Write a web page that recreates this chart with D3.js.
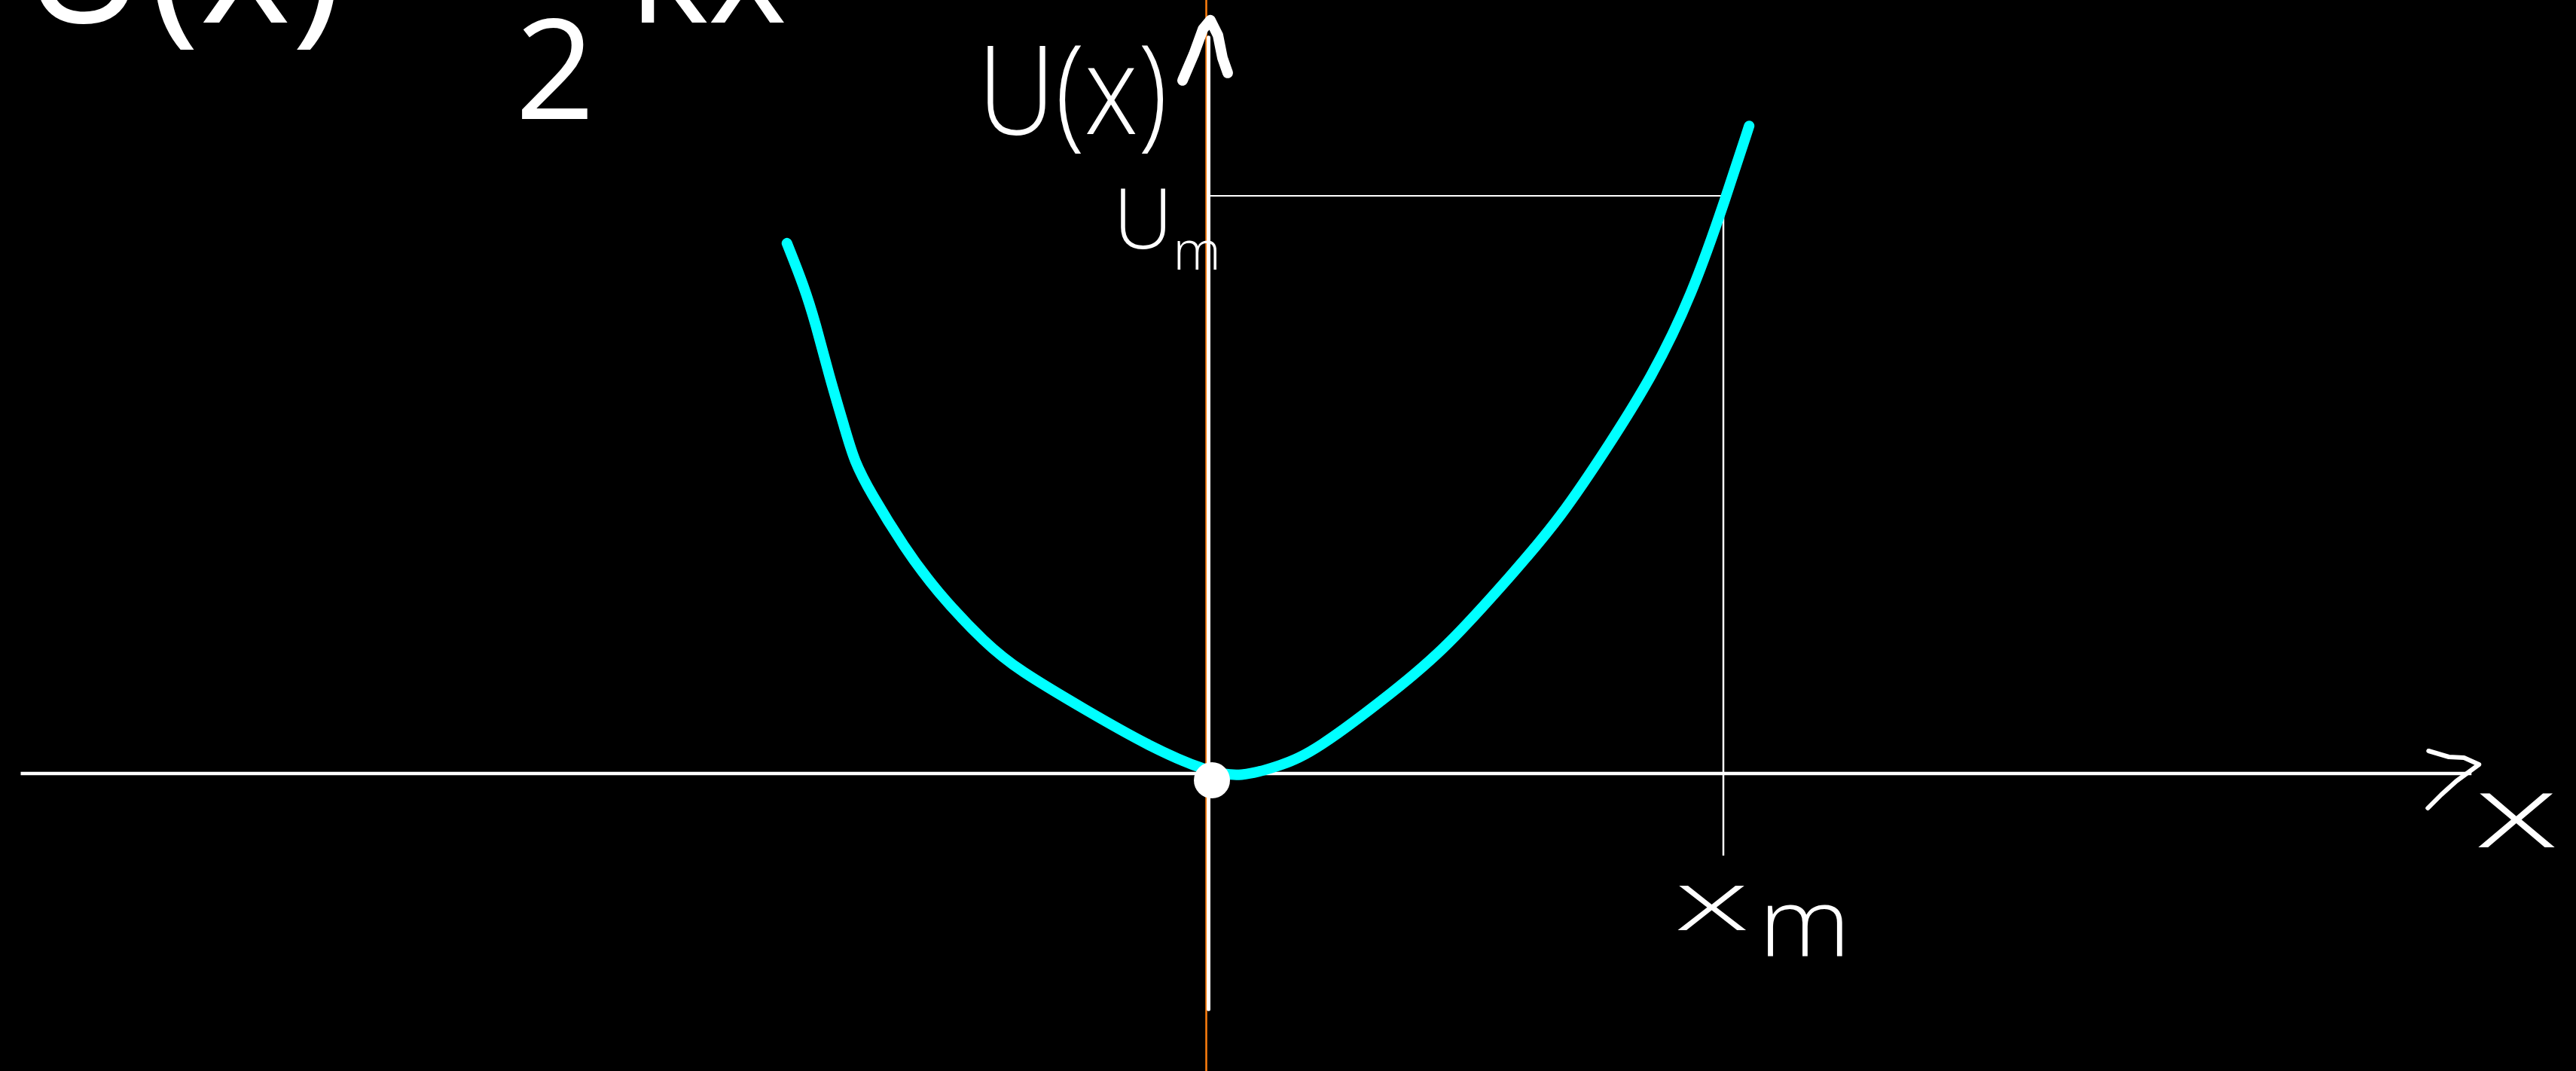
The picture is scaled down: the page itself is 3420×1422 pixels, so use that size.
<!DOCTYPE html>
<html>
<head>
<meta charset="utf-8">
<script src="https://cdn.jsdelivr.net/npm/d3@7"></script>
<style>
  html, body { margin: 0; padding: 0; background: #000; overflow: hidden; }
  svg { display: block; }
  text { fill: #fff; font-family: "Open Sans", "DejaVu Sans", sans-serif; }
</style>
</head>
<body>
<svg id="chart" width="3420" height="1422"></svg>
<script>
// Potential energy curve U(x): sampled positions and energies
const xValues = [-0.815, -0.782, -0.759, -0.734, -0.701, -0.685, -0.653, -0.588, -0.526,
                 -0.429, -0.366, -0.238, -0.111, 0, 0.064, 0.143, 0.207, 0.366, 0.461,
                 0.590, 0.685, 0.780, 0.860, 0.939, 1.006, 1.050];
const uValues = [0.918, 0.844, 0.778, 0.691, 0.592, 0.542, 0.486, 0.392, 0.316,
                 0.224, 0.179, 0.111, 0.046, 0.003, -0.007, 0.014, 0.037, 0.145, 0.216,
                 0.344, 0.443, 0.571, 0.684, 0.827, 1.0, 1.121];

// Marked amplitude x_m and its energy U_m
const xm = 1;
const um = 1;

// Axis extents in data units
const xAxisRange = [-2.3, 2.45];
const uAxisRange = [-0.408, 1.274];

// Labels
const labels = { potential: "U(x)", energy: "U", energySub: "m", amplitude: "x", amplitudeSub: "m", axis: "x" };

const svg = d3.select("#chart");

const x = d3.scaleLinear().domain([0, xm]).range([1603, 2288]);
const y = d3.scaleLinear().domain([0, um]).range([1027, 260]);

// Guide line behind the vertical axis
svg.append("line")
  .attr("x1", x(0) - 1.5).attr("x2", x(0) - 1.5)
  .attr("y1", 0).attr("y2", 1422)
  .attr("stroke", "#ff7f0e").attr("stroke-width", 2.5);

// Horizontal axis
svg.append("line")
  .attr("x1", x(xAxisRange[0])).attr("x2", x(xAxisRange[1]))
  .attr("y1", y(0)).attr("y2", y(0))
  .attr("stroke", "#fff").attr("stroke-width", 4.5);

// Vertical axis
svg.append("line")
  .attr("x1", x(0) + 1.5).attr("x2", x(0) + 1.5)
  .attr("y1", y(uAxisRange[1])).attr("y2", y(uAxisRange[0]))
  .attr("stroke", "#fff").attr("stroke-width", 5).attr("stroke-linecap", "round");

// Arrow heads
const arrowX = x(xAxisRange[1]) + 10;
svg.append("path")
  .attr("d", `M${arrowX - 67},${y(0) - 30} L${arrowX - 40},${y(0) - 22} L${arrowX - 20},${y(0) - 21} L${arrowX},${y(0) - 12} L${arrowX - 30},${y(0) + 10} L${arrowX - 50},${y(0) + 28} L${arrowX - 68},${y(0) + 46}`)
  .attr("fill", "none").attr("stroke", "#fff").attr("stroke-width", 6)
  .attr("stroke-linecap", "round").attr("stroke-linejoin", "round");

const arrowY = y(uAxisRange[1]) - 23;
svg.append("path")
  .attr("d", `M${x(0) - 33},${arrowY + 80} L${x(0) - 18},${arrowY + 45} L${x(0) - 6},${arrowY + 12} L${x(0) + 4},${arrowY} L${x(0) + 14},${arrowY + 20} L${x(0) + 20},${arrowY + 50} L${x(0) + 27},${arrowY + 70}`)
  .attr("fill", "none").attr("stroke", "#fff").attr("stroke-width", 14)
  .attr("stroke-linecap", "round").attr("stroke-linejoin", "round");

// Reference lines for x_m and U_m
svg.append("line")
  .attr("x1", x(0)).attr("x2", x(xm))
  .attr("y1", y(um)).attr("y2", y(um))
  .attr("stroke", "#fff").attr("stroke-width", 2.2);
svg.append("line")
  .attr("x1", x(xm)).attr("x2", x(xm))
  .attr("y1", y(um) - 5).attr("y2", y(-0.142))
  .attr("stroke", "#fff").attr("stroke-width", 2.5);

// Energy curve
const pts = xValues.map((v, i) => [v, uValues[i]]);
const line = d3.line()
  .x(d => x(d[0]))
  .y(d => y(d[1]))
  .curve(d3.curveBasis);
svg.append("path")
  .datum(pts)
  .attr("d", line)
  .attr("fill", "none")
  .attr("stroke", "#00ffff")
  .attr("stroke-width", 14)
  .attr("stroke-linecap", "round")
  .attr("stroke-linejoin", "round");

// Origin marker
svg.append("circle")
  .attr("cx", x(0) + 6).attr("cy", y(0) + 9).attr("r", 24)
  .attr("fill", "#fff");

// Formula at the top-left, running off the top edge
svg.append("text")
  .attr("x", 28).attr("y", 30)
  .attr("font-size", 230).attr("font-weight", 400)
  .attr("textLength", 620).attr("lengthAdjust", "spacing")
  .text("U(x) =");
svg.append("text")
  .attr("x", 684).attr("y", 158)
  .attr("font-size", 185).attr("font-weight", 400)
  .text("2");
svg.append("text")
  .attr("x", 835).attr("y", 30)
  .attr("font-size", 200).attr("font-weight", 400)
  .text("kx²");

// Axis labels
svg.append("text")
  .attr("x", 1298).attr("y", 178)
  .attr("font-size", 165).attr("font-weight", 300)
  .attr("textLength", 252).attr("lengthAdjust", "spacingAndGlyphs")
  .text(labels.potential);

const um_label = svg.append("text")
  .attr("x", x(0) - 125).attr("y", y(um) + 70)
  .attr("font-size", 110).attr("font-weight", 300);
um_label.append("tspan").text(labels.energy);
um_label.append("tspan").attr("font-size", 72).attr("dy", 28).text(labels.energySub);

const xm_label = svg.append("text")
  .attr("x", x(xm) - 65).attr("y", y(0) + 208)
  .attr("font-size", 110).attr("font-weight", 300);
xm_label.append("tspan").attr("textLength", 100).attr("lengthAdjust", "spacingAndGlyphs").text(labels.amplitude);
xm_label.append("tspan").attr("font-size", 125).attr("dx", 12).attr("dy", 35)
  .attr("textLength", 122).attr("lengthAdjust", "spacingAndGlyphs").text(labels.amplitudeSub);

svg.append("text")
  .attr("x", x(xAxisRange[1]) + 4).attr("y", y(0) + 98)
  .attr("font-size", 135).attr("font-weight", 300)
  .attr("textLength", 112).attr("lengthAdjust", "spacingAndGlyphs")
  .text(labels.axis);
</script>
</body>
</html>
